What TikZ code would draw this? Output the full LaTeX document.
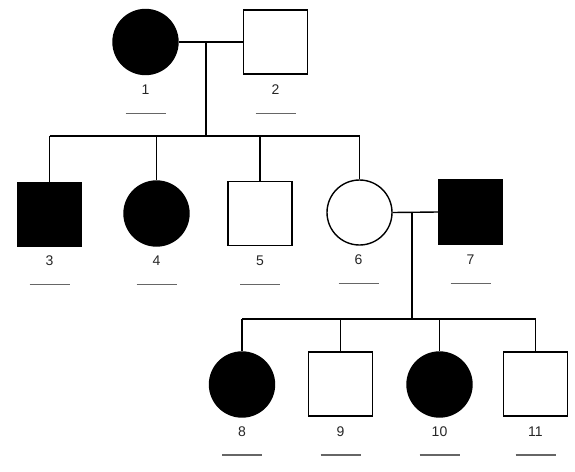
\documentclass[tikz,border=0pt]{standalone}
\usepackage{fontspec}
\setmainfont{Liberation Sans}
\begin{document}
\begin{tikzpicture}[x=1pt,y=-1pt,
  line width=1.4pt,
  female/.style={circle,draw,inner sep=0pt,minimum size=65pt},
  male/.style={rectangle,draw,inner sep=0pt,minimum size=64pt},
  aff/.style={fill=black},
  unaff/.style={fill=white},
  lbl/.style={font=\fontsize{14}{14}\selectfont,text=black!85},
  uline/.style={draw=black!60,line width=1.5pt},
  conn/.style={draw=black,line width=1.4pt}]
\useasboundingbox (0,0) rectangle (575,471);
% generation I
\node[female,aff] (n1) at (145.5,42) {};
\node[male,unaff] (n2) at (275.5,42) {};
% generation II
\node[male,aff] (n3) at (49.5,214.5) {};
\node[female,aff] (n4) at (156.5,213.5) {};
\node[male,unaff] (n5) at (260,213.5) {};
\node[female,unaff] (n6) at (359.5,212.5) {};
\node[male,aff] (n7) at (470.5,212) {};
% generation III
\node[female,aff] (n8) at (242,384.5) {};
\node[male,unaff] (n9) at (340.5,384) {};
\node[female,aff] (n10) at (439.5,384.5) {};
\node[male,unaff] (n11) at (535.5,384) {};
% labels and underlines
\foreach \n/\x/\y in {1/145.5/42,2/275.5/42,3/49.5/213,4/156.5/213,5/260/213,6/358.5/212,7/470.5/212,8/242/383.5,9/340.5/383.5,10/439.5/383.5,11/535.5/383.5}{
  \node[lbl] (t\n) at (\x,\y+48) {\n};
  \coordinate (ua\n) at (\x-20,\y+71.5);
  \coordinate (ub\n) at (\x+20,\y+71.5);
  \draw[uline] (ua\n) -- (ub\n);
}
% marriage 1-2
\draw[conn] (n1.east) -- (n2.west);
\coordinate (m1) at (206,42);
\coordinate (d1) at (206,136);
\draw[conn] (m1) -- (d1);
\coordinate (s1a) at (n3.center |- d1);
\coordinate (s1b) at (n6.center |- d1);
\draw[conn] (s1a) -- (s1b);
\foreach \c in {n3,n4,n5,n6}{
  \coordinate (top\c) at (\c.center |- d1);
  \draw[conn] (top\c) -- (\c.north);
}
% marriage 6-7
\draw[conn] (n6.east) -- (n7.west);
\coordinate (m2) at (412,212);
\coordinate (d2) at (412,319);
\draw[conn] (m2) -- (d2);
\coordinate (s2a) at (n8.center |- d2);
\coordinate (s2b) at (n11.center |- d2);
\draw[conn] (s2a) -- (s2b);
\foreach \c in {n8,n9,n10,n11}{
  \coordinate (top\c) at (\c.center |- d2);
  \draw[conn] (top\c) -- (\c.north);
}
\end{tikzpicture}
\end{document}
